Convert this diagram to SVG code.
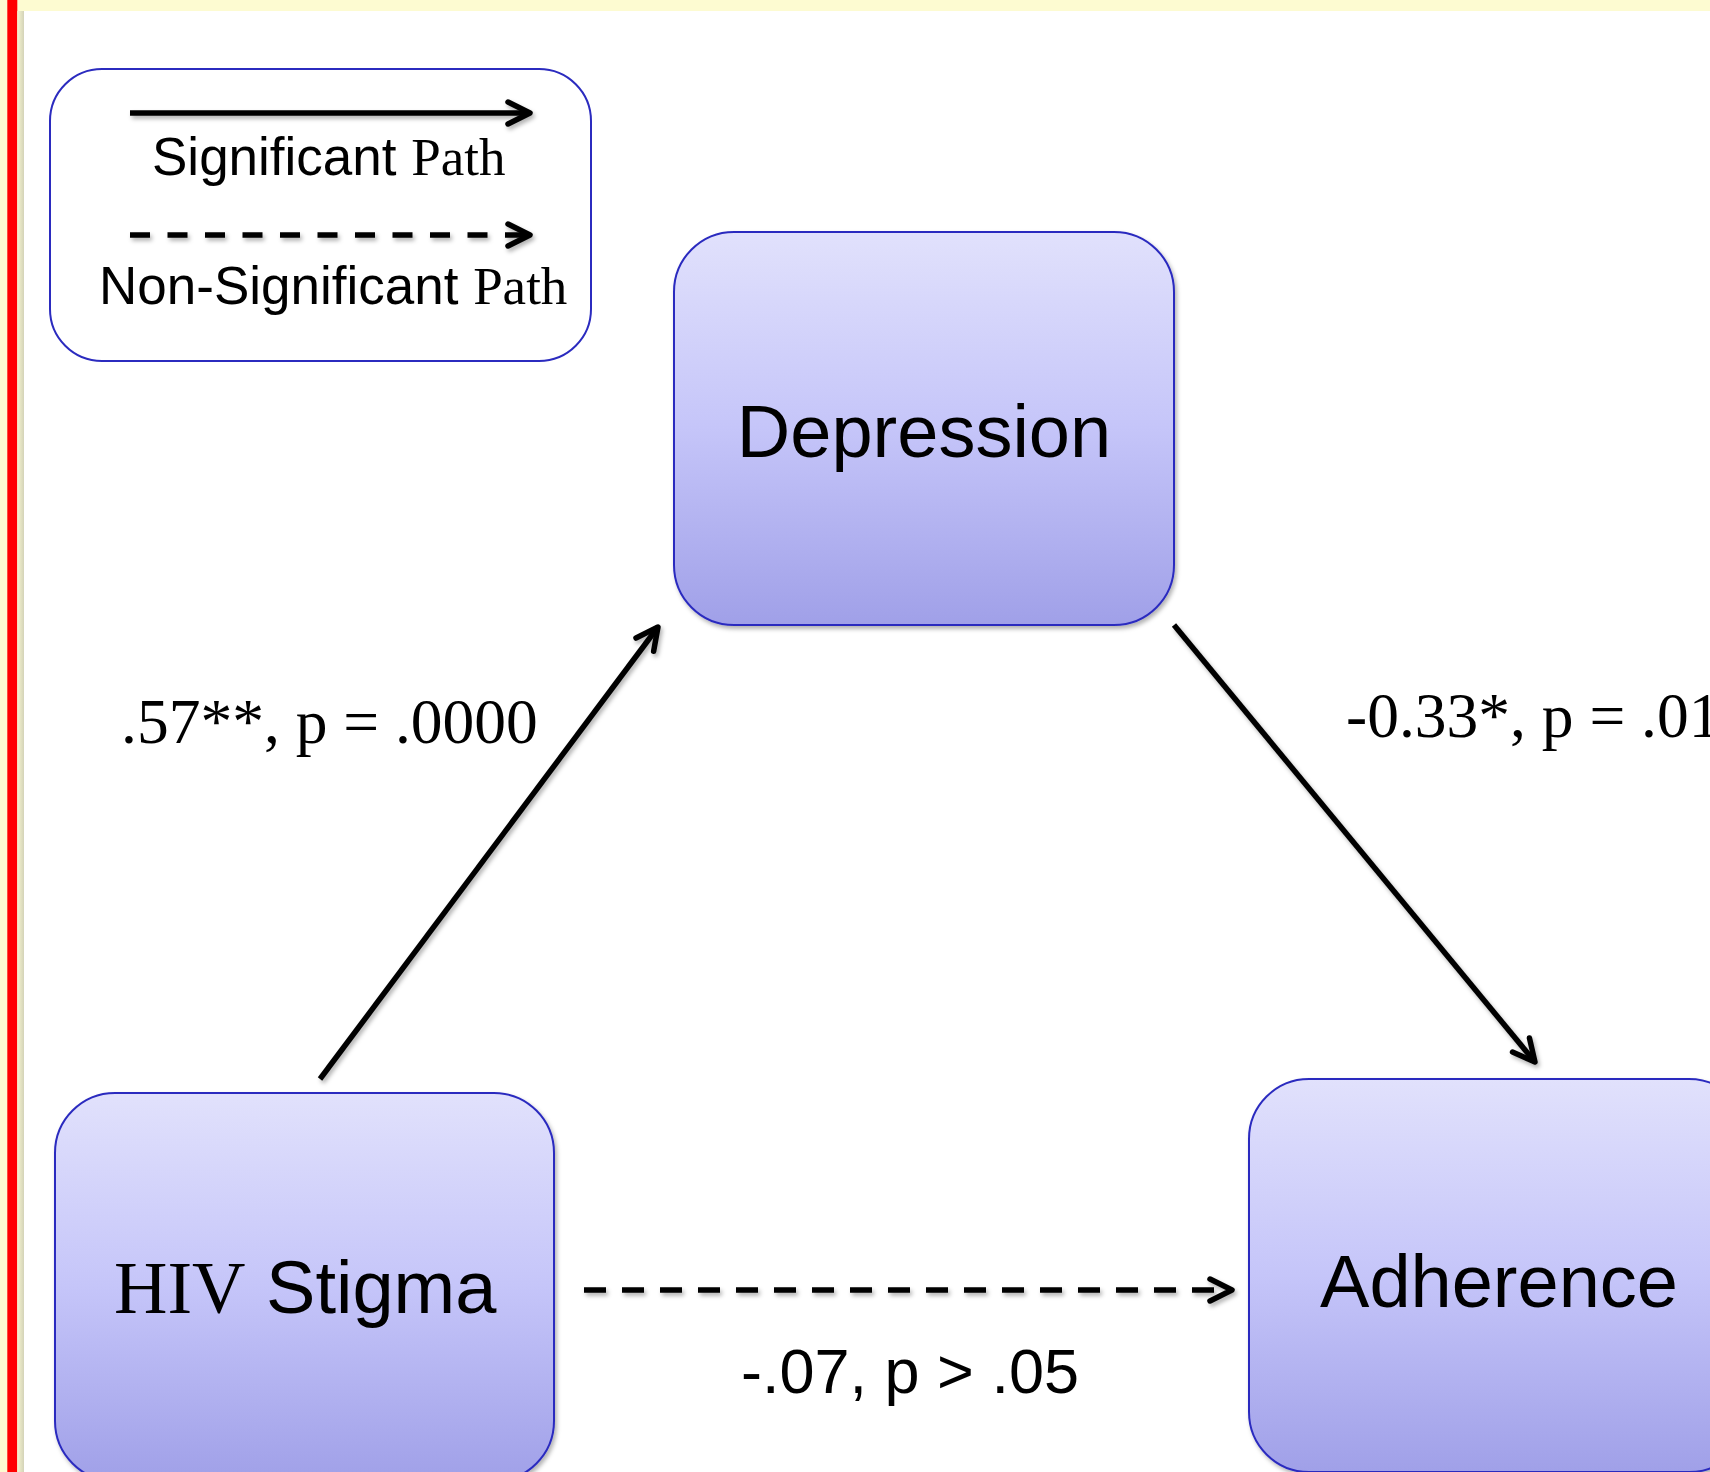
<svg xmlns="http://www.w3.org/2000/svg" width="1710" height="1472" viewBox="0 0 1710 1472">
  <defs>
    <style>
      .sans { font-family: "Liberation Sans", Arial, sans-serif; }
      .serif { font-family: "Liberation Serif", "Times New Roman", serif; }
      .node rect.box { fill: url(#boxGrad); stroke: #2b2bbf; stroke-width: 2; }
      .label { fill: #000; }
      .conn { fill: none; stroke: #000; stroke-width: 5.5; stroke-linecap: butt; }
      .dash-legend { stroke-dasharray: 20 17.5; }
      .dash-main { stroke-dasharray: 22 16; }
    </style>
    <linearGradient id="boxGrad" x1="0" y1="0" x2="0" y2="1">
      <stop offset="0" stop-color="#e1e1fc"/>
      <stop offset="0.5" stop-color="#c5c5f9"/>
      <stop offset="1" stop-color="#a0a0e8"/>
    </linearGradient>
    <linearGradient id="pageShadow" x1="0" y1="0" x2="1" y2="0">
      <stop offset="0" stop-color="#f5f4cf"/>
      <stop offset="1" stop-color="#d4d3b8"/>
    </linearGradient>
    <filter id="shadow" filterUnits="userSpaceOnUse" x="0" y="0" width="1710" height="1472">
      <feDropShadow dx="2" dy="3" stdDeviation="2" flood-color="#000" flood-opacity="0.3"/>
    </filter>
    <marker id="chev" markerUnits="userSpaceOnUse" markerWidth="40" markerHeight="40" refX="0" refY="0" orient="auto" overflow="visible">
      <path d="M-22,-11 L0,0 L-22,11" fill="none" stroke="#000" stroke-width="5.5" stroke-linejoin="round" stroke-linecap="round"/>
    </marker>
  </defs>

  <!-- slide background -->
  <rect x="0" y="0" width="1710" height="1472" fill="#fdfbd1"/>
  <rect x="7.3" y="0" width="10" height="1472" fill="#ff0000"/>
  <rect x="17.3" y="11" width="6.7" height="1461" fill="url(#pageShadow)"/>
  <rect x="24" y="11" width="1686" height="1461" fill="#ffffff"/>

  <!-- legend -->
  <g id="legend">
    <rect x="50" y="69" width="541" height="292" rx="52" ry="52" fill="#ffffff" stroke="#2b2bbf" stroke-width="2"/>
    <g filter="url(#shadow)">
      <line class="conn" x1="130" y1="113" x2="530" y2="113" marker-end="url(#chev)"/>
      <line class="conn dash-legend" x1="130" y1="235" x2="530" y2="235" marker-end="url(#chev)"/>
    </g>
    <text x="152" y="175" font-size="53" class="label"><tspan class="sans">Significant </tspan><tspan class="serif">Path</tspan></text>
    <text x="99" y="304" font-size="53" class="label"><tspan class="sans">Non-Significant </tspan><tspan class="serif">Path</tspan></text>
  </g>

  <!-- nodes -->
  <g id="node-depression" class="node">
    <rect class="box" x="674" y="232" width="500" height="393" rx="60" ry="60" filter="url(#shadow)"/>
    <text class="sans label" x="924" y="457" font-size="74" text-anchor="middle">Depression</text>
  </g>
  <g id="node-hiv-stigma" class="node">
    <rect class="box" x="55" y="1093" width="499" height="388" rx="60" ry="60" filter="url(#shadow)"/>
    <text x="114" y="1313" font-size="74" class="label"><tspan class="serif">HIV</tspan><tspan class="sans"> Stigma</tspan></text>
  </g>
  <g id="node-adherence" class="node">
    <rect class="box" x="1249" y="1079" width="500" height="393" rx="60" ry="60" filter="url(#shadow)"/>
    <text class="sans label" x="1499" y="1307" font-size="74" text-anchor="middle">Adherence</text>
  </g>

  <!-- connectors -->
  <g id="connectors" filter="url(#shadow)">
    <line class="conn" x1="320" y1="1079" x2="658" y2="627" marker-end="url(#chev)"/>
    <line class="conn" x1="1174" y1="625" x2="1535" y2="1062" marker-end="url(#chev)"/>
    <line class="conn dash-main" x1="584" y1="1290" x2="1232" y2="1290" marker-end="url(#chev)"/>
  </g>

  <!-- connector labels -->
  <g id="connector-labels">
    <text class="serif label" x="121" y="743" font-size="63.5">.57**, p = .0000</text>
    <text class="serif label" x="1346" y="737" font-size="63.5">-0.33*, p = .01</text>
    <text class="sans label" x="910" y="1393" font-size="63" text-anchor="middle">-.07, p &gt; .05</text>
  </g>
</svg>
